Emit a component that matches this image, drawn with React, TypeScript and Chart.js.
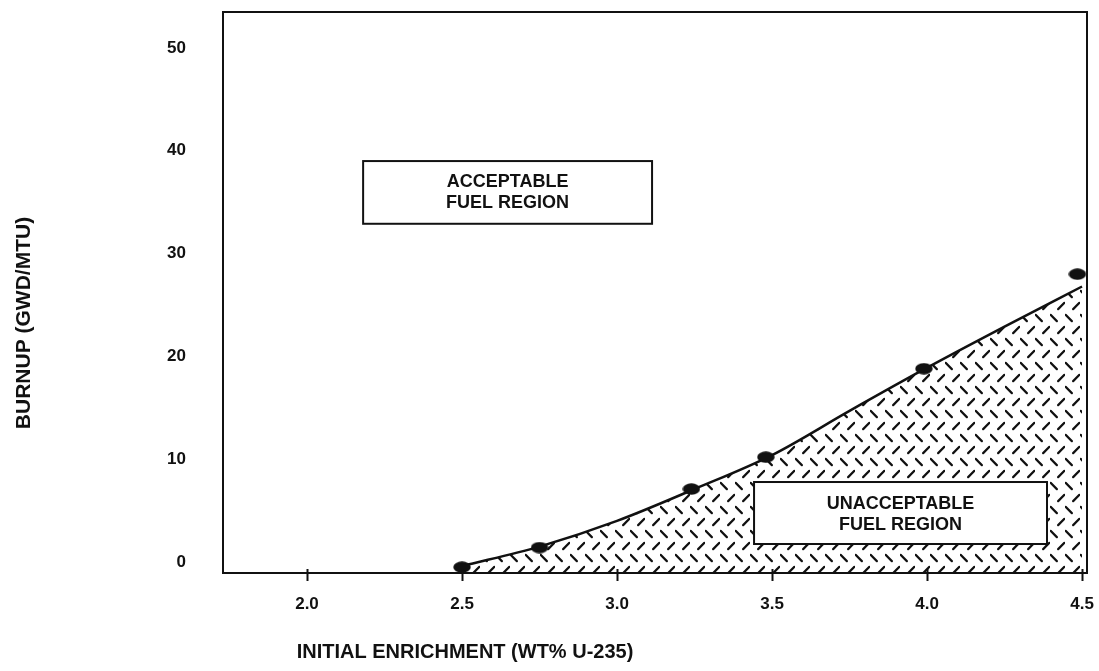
import React, { useEffect, useRef } from "react";
import { Chart, registerables } from "chart.js";

Chart.register(...registerables);

// ---- data ----
const enrichmentPoints = [2.5, 2.75, 3.24, 3.48, 3.99, 4.485];
const burnupPoints = [-0.5, 1.4, 7.1, 10.2, 18.8, 28.0];

const curveEnrichment = [2.5, 2.75, 3.0, 3.25, 3.5, 3.75, 4.0, 4.25, 4.5];
const curveBurnup = [-0.4, 1.5, 4.0, 7.1, 10.4, 14.7, 18.9, 22.9, 26.8];

const xTickValues = [2.0, 2.5, 3.0, 3.5, 4.0, 4.5];
const yTickValues = [0, 10, 20, 30, 40, 50];

const acceptableLabel = ["ACCEPTABLE", "FUEL REGION"];
const unacceptableLabel = ["UNACCEPTABLE", "FUEL REGION"];

const xTitle = "INITIAL ENRICHMENT (WT% U-235)";
const yTitle = "BURNUP (GWD/MTU)";

// annotation boxes in data units
const regionBoxes = [
  { x0: 2.181, x1: 3.113, y0: 39.0, y1: 32.9, lines: acceptableLabel, dy: 0 },
  { x0: 3.442, x1: 4.387, y0: 7.78, y1: 1.75, lines: unacceptableLabel, dy: 2 },
];

const FONT = '"Liberation Sans", Arial, Helvetica, sans-serif';
const INK = "#111";

function makeHatch(): CanvasPattern | string {
  const c = document.createElement("canvas");
  c.width = 15;
  c.height = 24;
  const g = c.getContext("2d");
  if (!g) return "rgba(0,0,0,0.2)";
  g.strokeStyle = INK;
  g.lineWidth = 2.2;
  g.lineCap = "round";
  const dash = (cx: number, cy: number, dir: number) => {
    const h = 3.1;
    g.beginPath();
    g.moveTo(cx - h, cy - h * dir);
    g.lineTo(cx + h, cy + h * dir);
    g.stroke();
  };
  dash(3.75, 6, 1); // "\"
  dash(11.25, 18, -1); // "/"
  return g.createPattern(c, "repeat") || "rgba(0,0,0,0.2)";
}

function makeDot(): HTMLCanvasElement {
  const c = document.createElement("canvas");
  c.width = 18;
  c.height = 12;
  const g = c.getContext("2d");
  if (g) {
    g.fillStyle = INK;
    g.beginPath();
    g.ellipse(9, 6, 8.7, 5.8, 0, 0, Math.PI * 2);
    g.fill();
  }
  return c;
}

const decorPlugin = {
  id: "decor",
  afterDatasetsDraw(chart: any) {
    const { ctx, chartArea: a, scales } = chart;
    const x = scales.x;
    const y = scales.y;
    ctx.save();
    // region boxes
    for (const b of regionBoxes) {
      const l = x.getPixelForValue(b.x0);
      const r = x.getPixelForValue(b.x1);
      const t = y.getPixelForValue(b.y0);
      const bt = y.getPixelForValue(b.y1);
      ctx.fillStyle = "#fff";
      ctx.fillRect(l, t, r - l, bt - t);
      ctx.strokeStyle = INK;
      ctx.lineWidth = 2;
      ctx.strokeRect(l, t, r - l, bt - t);
      ctx.fillStyle = INK;
      ctx.font = `bold 18px ${FONT}`;
      ctx.textAlign = "center";
      ctx.textBaseline = "middle";
      const cx = (l + r) / 2;
      const cy = (t + bt) / 2 + b.dy;
      ctx.fillText(b.lines[0], cx, cy - 10.5);
      ctx.fillText(b.lines[1], cx, cy + 10.5);
    }
    // frame
    ctx.strokeStyle = INK;
    ctx.lineWidth = 2;
    ctx.strokeRect(a.left, a.top, a.right - a.left, a.bottom - a.top);
    // x tick marks crossing the bottom axis
    for (const t of x.ticks) {
      const px = Math.round(x.getPixelForValue(t.value)) + 0.5;
      ctx.beginPath();
      ctx.moveTo(px, a.bottom - 4);
      ctx.lineTo(px, a.bottom + 8);
      ctx.stroke();
    }
    ctx.restore();
  },
  afterDraw(chart: any) {
    const { ctx } = chart;
    ctx.save();
    ctx.fillStyle = INK;
    ctx.textAlign = "center";
    ctx.textBaseline = "middle";
    ctx.font = `bold 20px ${FONT}`;
    ctx.fillText(xTitle, 465, 652);
    ctx.translate(24, 323);
    ctx.rotate(-Math.PI / 2);
    ctx.font = `bold 21px ${FONT}`;
    ctx.fillText(yTitle, 0, 0);
    ctx.restore();
  },
};

const zeroPadding = (s: any) => {
  s.paddingTop = 0;
  s.paddingBottom = 0;
  s.paddingLeft = 0;
  s.paddingRight = 0;
};

export default function App() {
  const canvasRef = useRef<HTMLCanvasElement | null>(null);

  useEffect(() => {
    const canvas = canvasRef.current;
    if (!canvas) return;
    const hatch = makeHatch();
    const dot = makeDot();

    const chart = new Chart(canvas, {
      type: "line",
      data: {
        datasets: [
          {
            label: "Fit",
            data: curveEnrichment.map((v, i) => ({ x: v, y: curveBurnup[i] })),
            borderColor: INK,
            borderWidth: 2.5,
            backgroundColor: hatch as any,
            fill: "start",
            cubicInterpolationMode: "monotone",
            pointRadius: 0,
            order: 2,
          },
          {
            label: "Points",
            data: enrichmentPoints.map((v, i) => ({ x: v, y: burnupPoints[i] })),
            showLine: false,
            pointStyle: dot as any,
            pointRadius: 9,
            backgroundColor: INK,
            borderColor: INK,
            clip: false as any,
            order: 1,
          },
        ],
      },
      options: {
        animation: false,
        responsive: true,
        maintainAspectRatio: false,
        layout: { padding: { top: 12, right: 12, left: 0, bottom: 0 } },
        plugins: {
          legend: { display: false },
          tooltip: { enabled: false },
          title: { display: false },
        },
        scales: {
          x: {
            type: "linear",
            min: 1.729,
            max: 4.516,
            grid: { display: false, drawTicks: false },
            border: { display: false },
            afterBuildTicks: (s: any) => {
              s.ticks = xTickValues.map((v) => ({ value: v }));
            },
            afterFit: (s: any) => {
              s.height = 98;
              zeroPadding(s);
            },
            ticks: {
              autoSkip: false,
              maxRotation: 0,
              padding: 21,
              color: INK,
              font: { family: FONT, size: 17, weight: "bold" },
              callback: (v: any) => Number(v).toFixed(1),
            },
          },
          y: {
            type: "linear",
            min: -1.07,
            max: 53.5,
            grid: { display: false, drawTicks: false },
            border: { display: false },
            afterBuildTicks: (s: any) => {
              s.ticks = yTickValues.map((v) => ({ value: v }));
            },
            afterFit: (s: any) => {
              s.width = 223;
              zeroPadding(s);
            },
            ticks: {
              autoSkip: false,
              padding: 37,
              color: INK,
              font: { family: FONT, size: 17, weight: "bold" },
              callback: (v: any) => String(v),
            },
          },
        },
      },
      plugins: [decorPlugin],
    });

    return () => chart.destroy();
  }, []);

  return (
    <div
      style={{
        position: "absolute",
        left: 0,
        top: 0,
        width: 1099,
        height: 671,
        background: "#fff",
      }}
    >
      <canvas ref={canvasRef} />
    </div>
  );
}
